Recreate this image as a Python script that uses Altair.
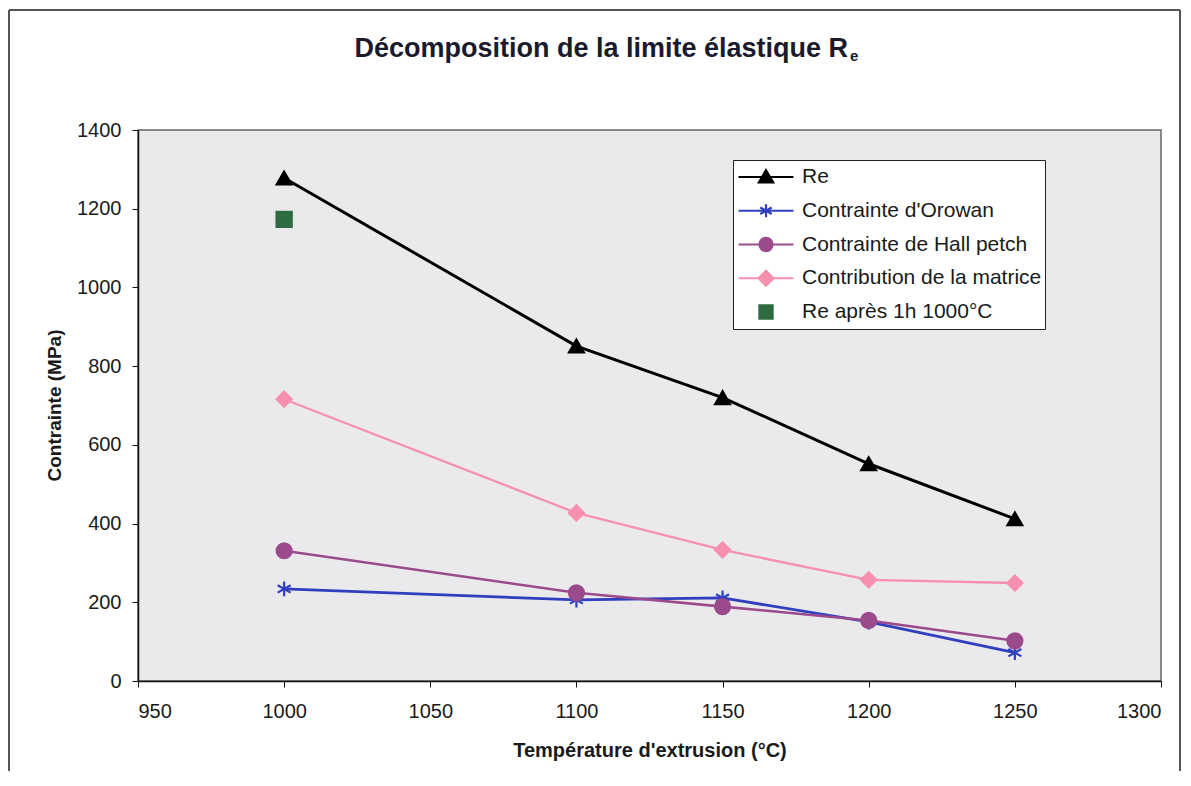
import altair as alt
import pandas as pd

# ---------------- data ----------------
temps = [1000, 1100, 1150, 1200, 1250]
re_vals = [1278, 851, 720, 552, 412]
orowan_vals = [234, 206, 211, 150, 72]
hall_vals = [331, 224, 189, 154, 102]
matrice_vals = [716, 427, 333, 257, 249]
re_apres_temps = [1000]
re_apres_vals = [1173]

series_names = ["Re", "Contrainte d'Orowan", "Contrainte de Hall petch",
                "Contribution de la matrice", "Re après 1h 1000°C"]
series_colors = ["#000000", "#2f3fbf", "#9b4a8c", "#f78fae", "#2e6b40"]
line_widths = [3, 2.3, 2.3, 2.6]

x_ticks = [950, 1000, 1050, 1100, 1150, 1200, 1250, 1300]
y_ticks = [0, 200, 400, 600, 800, 1000, 1200, 1400]

title_main = "Décomposition de la limite élastique R"
title_sub = "e"
x_title = "Température d'extrusion (°C)"
y_title = "Contrainte (MPa)"

# marker shapes in the plot
plot_shapes = [
    "triangle-up",
    "M0,-1V1M-0.87,-0.5L0.87,0.5M-0.87,0.5L0.87,-0.5",
    "circle",
    "diamond",
    "square",
]
plot_sizes = [220, 230, 170, 180, 190]

# legend symbols: line segment + marker
legend_shapes = [
    "M-1,0H1M-0.26,0.2L0,-0.25L0.26,0.2Z",
    "M-1,0H1M0,-0.24V0.24M-0.21,-0.12L0.21,0.12M-0.21,0.12L0.21,-0.12",
    "M-1,0H1M-0.24,0A0.24,0.24 0 1,0 0.24,0A0.24,0.24 0 1,0 -0.24,0Z",
    "M-1,0H1M-0.27,0L0,-0.27L0.27,0L0,0.27Z",
    "M-0.24,-0.24H0.24V0.24H-0.24Z",
]

FONT = "Liberation Sans"

# ---------------- tables ----------------
rows = []
for name, vals in zip(series_names[:4], [re_vals, orowan_vals, hall_vals, matrice_vals]):
    for t, v in zip(temps, vals):
        rows.append({"serie": name, "temp": t, "val": v})
lines_df = pd.DataFrame(rows)
pts_df = pd.concat([lines_df, pd.DataFrame(
    {"serie": series_names[4], "temp": re_apres_temps, "val": re_apres_vals})], ignore_index=True)
one = pd.DataFrame({"k": [0]})

x_enc = alt.X("temp:Q", scale=alt.Scale(domain=[950, 1300], nice=False, zero=False),
              axis=alt.Axis(values=x_ticks, format="d", title=x_title, grid=False, tickSize=6,
                            labelPadding=14, labelFontSize=20, labelFont=FONT,
                            labelColor="#1a1a1a", titleFont=FONT, titleFontSize=20,
                            titleFontWeight="bold", titleColor="#1a1a1a",
                            titleY=75, titleBaseline="alphabetic",
                            domainColor="#111", tickColor="#111", domainWidth=1.5))
y_enc = alt.Y("val:Q", scale=alt.Scale(domain=[0, 1400], nice=False),
              axis=alt.Axis(values=y_ticks, format="d", title=y_title, grid=False, tickSize=6,
                            labelPadding=11, labelFontSize=20, labelFont=FONT,
                            labelColor="#1a1a1a", titleFont=FONT, titleFontSize=19,
                            titleFontWeight="bold", titleColor="#1a1a1a",
                            titleAngle=270, titleX=-74, titleY=275, titleAlign="center",
                            titleBaseline="bottom",
                            domainColor="#111", tickColor="#111", domainWidth=1.5))

# frame around the whole figure
frame_color = "#555"
frame_left = alt.Chart(one).mark_rule(color=frame_color, strokeWidth=2).encode(
    x=alt.value(-129), y=alt.value(-120), y2=alt.value(700))
frame_top = alt.Chart(one).mark_rule(color=frame_color, strokeWidth=2).encode(
    x=alt.value(-129), x2=alt.value(1042), y=alt.value(-120))
frame_right = alt.Chart(one).mark_rule(color=frame_color, strokeWidth=2).encode(
    x=alt.value(1042), y=alt.value(-120), y2=alt.value(700))

t_main = alt.Chart(one).mark_text(font=FONT, fontSize=27, fontWeight="bold", color="#1a1a2a",
                                   align="right", baseline="alphabetic").encode(
    x=alt.value(710), y=alt.value(-73), text=alt.value(title_main))
t_sub = alt.Chart(one).mark_text(font=FONT, fontSize=15, fontWeight="bold", color="#1a1a2a",
                                  align="left", baseline="alphabetic").encode(
    x=alt.value(712), y=alt.value(-69), text=alt.value(title_sub))

lines = alt.Chart(lines_df).mark_line().encode(
    x=x_enc, y=y_enc,
    stroke=alt.Stroke("serie:N", scale=alt.Scale(domain=series_names[:4], range=series_colors[:4]),
                      legend=None),
    strokeWidth=alt.StrokeWidth("serie:N", scale=alt.Scale(domain=series_names[:4], range=line_widths),
                                legend=None),
)

points = alt.Chart(pts_df).mark_point(filled=True, opacity=1, strokeWidth=2.2).encode(
    x=alt.X("temp:Q"), y=alt.Y("val:Q"),
    fill=alt.Fill("serie:N", scale=alt.Scale(domain=series_names, range=series_colors), legend=None),
    stroke=alt.Stroke("serie:N", scale=alt.Scale(domain=series_names, range=series_colors), legend=None),
    shape=alt.Shape("serie:N", scale=alt.Scale(domain=series_names, range=plot_shapes), legend=None),
    size=alt.Size("serie:N", scale=alt.Scale(domain=series_names, range=plot_sizes), legend=None),
)

leg = alt.Legend(orient="none", legendX=595, legendY=30, title=None,
                 symbolSize=3025, symbolStrokeWidth=2.2, clipHeight=28, rowPadding=5.75,
                 padding=3, labelOffset=7, symbolOffset=1, labelFont=FONT, labelFontSize=21,
                 labelColor="#1a1a1a", fillColor="white", strokeColor="#222",
                 labelLimit=400, labelExpr="datum.label + '\u00a0\u00a0'", symbolOpacity=1)

legend_layer = alt.Chart(pts_df).transform_filter("false").mark_point(
    filled=True, opacity=1, strokeWidth=2).encode(
    x=alt.X("temp:Q"), y=alt.Y("val:Q"),
    fill=alt.Fill("serie:N", scale=alt.Scale(domain=series_names, range=series_colors), legend=leg),
    stroke=alt.Stroke("serie:N", scale=alt.Scale(domain=series_names, range=series_colors), legend=leg),
    shape=alt.Shape("serie:N", scale=alt.Scale(domain=series_names, range=legend_shapes), legend=leg),
)

chart = alt.layer(frame_left, frame_top, frame_right, t_main, t_sub, lines, points, legend_layer).resolve_scale(
    fill="independent", stroke="independent", shape="independent", size="independent",
    strokeWidth="independent"
).properties(
    width=1023, height=551,
    padding={"left": 130, "top": 122, "right": 20, "bottom": 90},
    autosize=alt.AutoSizeParams(type="none"),
    background="white",
).configure_view(
    fill="#eaeaed", stroke="#666", strokeWidth=1.5
)

chart.save("out.html", embed_options={"renderer": "svg", "actions": False})
